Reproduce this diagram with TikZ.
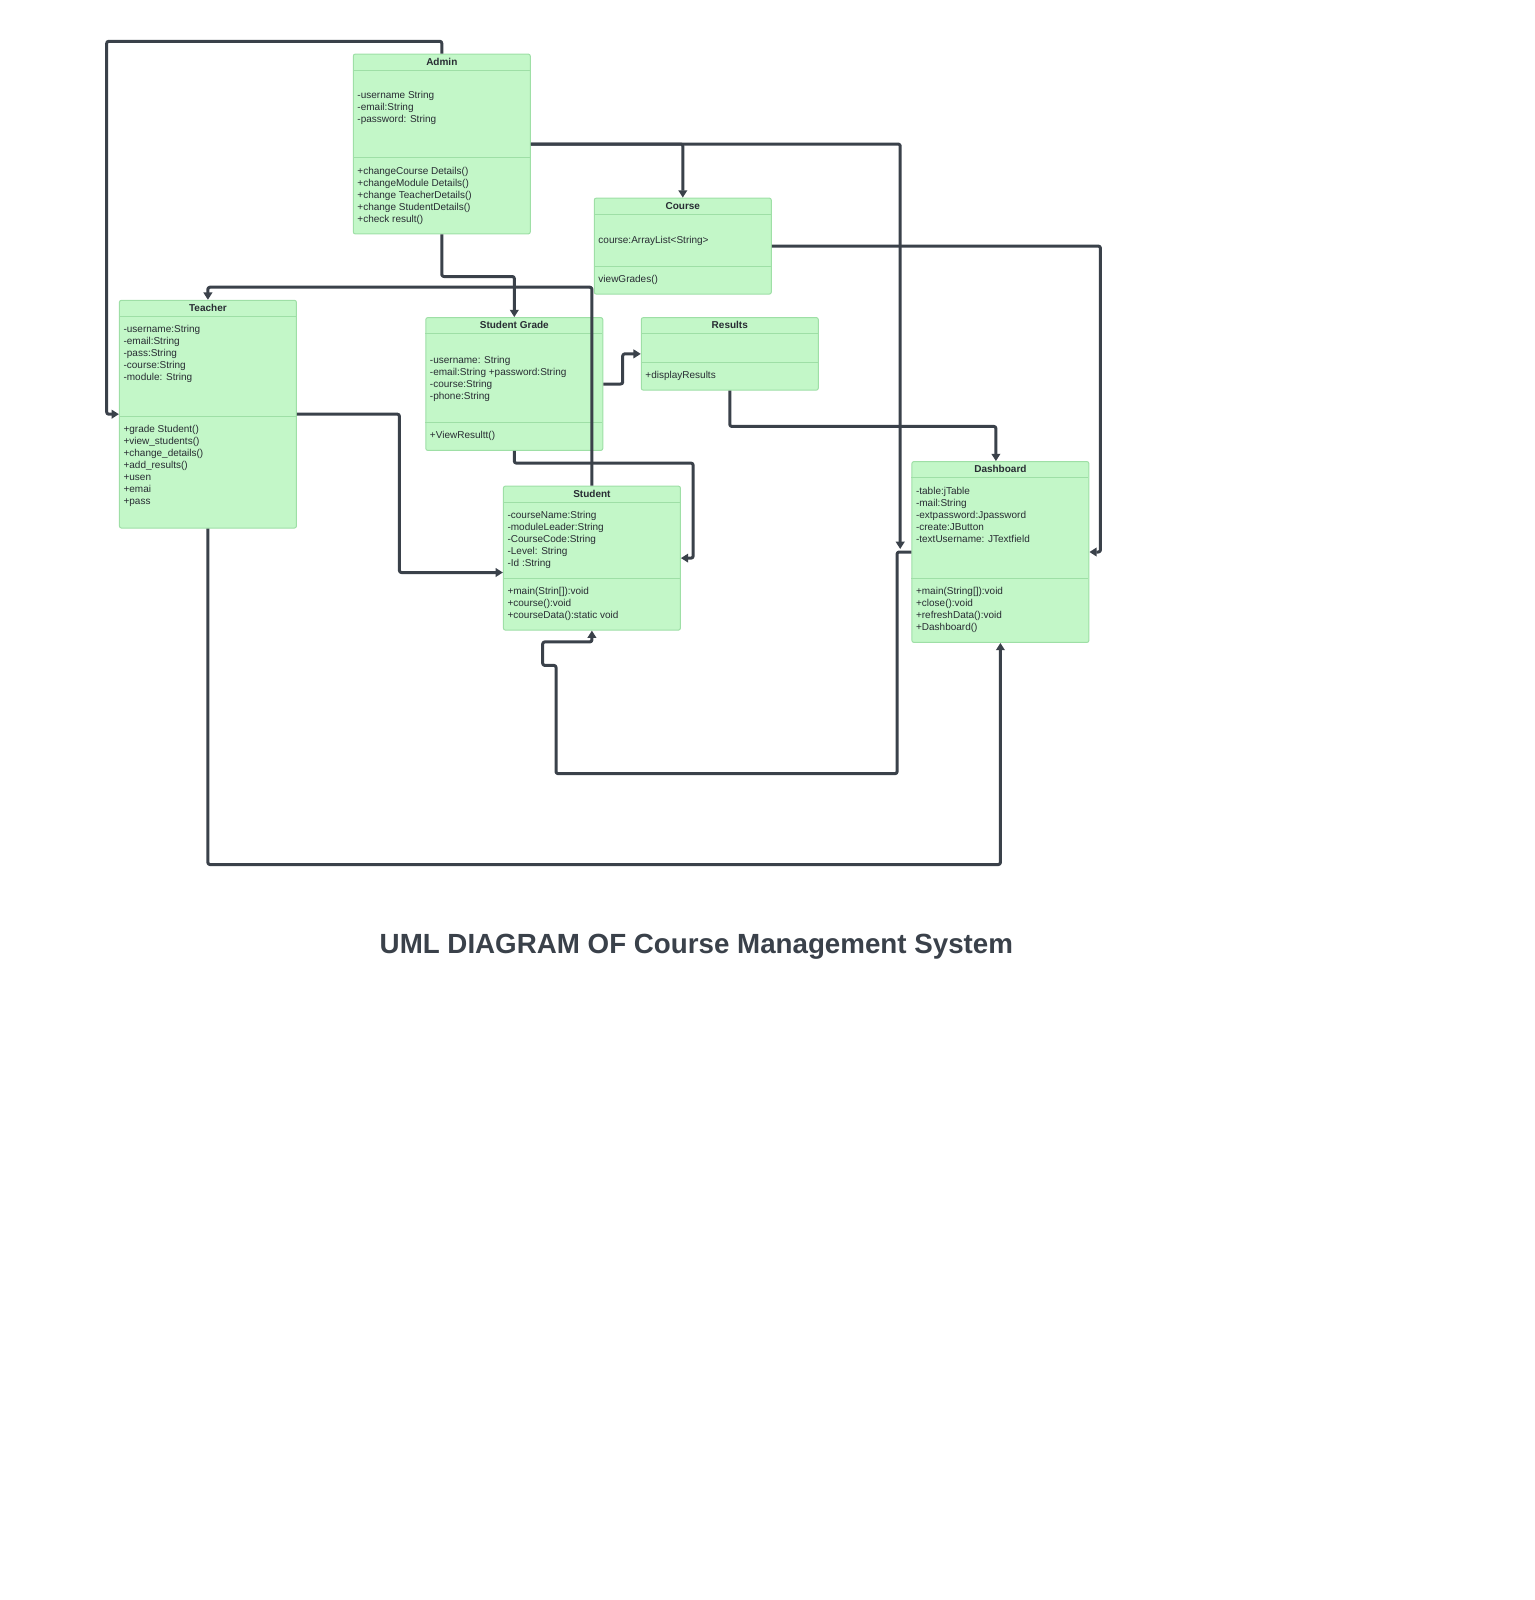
\documentclass[tikz,border=0pt]{standalone}
\usepackage{fontspec}
\setmainfont{Liberation Sans}
\usetikzlibrary{arrows.meta,calc}
\definecolor{boxfill}{HTML}{C3F7C8}
\definecolor{boxborder}{HTML}{9EDFA6}
\definecolor{linec}{HTML}{3A414A}
\definecolor{txt}{HTML}{282C33}
\definecolor{titlec}{HTML}{3A414A}
\tikzset{
  umlbox/.style={draw=boxborder, fill=boxfill, rounded corners=1.5pt, line width=0.75pt,
    minimum width=132.75pt, inner sep=0pt, anchor=north west},
  sepline/.style={draw=boxborder, line width=0.75pt},
  ttl/.style={font=\fontsize{7.5}{9}\selectfont\bfseries, text=txt, inner sep=0pt},
  body/.style={font=\fontsize{7.5}{9}\selectfont, text=txt, align=left, anchor=north west, inner sep=0pt},
  conn/.style={draw=linec, line width=2.25pt, line join=round, rounded corners=1.5pt,
    -{Triangle[length=5.5pt,width=6.5pt]}},
}
\begin{document}
\begin{tikzpicture}[x=0.75pt,y=-0.75pt]
\useasboundingbox (0,0) rectangle (1535,1600);
\begin{scope}[shift={(-0.6,-0.5)}]
% ---------- boxes ----------
% Admin
\node[umlbox, minimum height=134.85pt] (admin) at (353.4,54.1) {};
\draw[sepline] ($(admin.north west)+(0,16.4)$) -- ++(177,0);
\draw[sepline] ($(admin.north west)+(0,104.2)$) -- ++(177,0);
\node[ttl] (adminT) at ($(admin.north)+(0,8.2)$) {Admin};
\node[body] (adminA) at ($(admin.north west)+(4.4,36.6)$) {\strut-username String\\-email:String\\-password: String};
\node[body] (adminM) at ($(admin.north west)+(4.4,112.3)$) {\strut+changeCourse Details()\\+changeModule Details()\\+change TeacherDetails()\\+change StudentDetails()\\+check result()};

% Course
\node[umlbox, minimum height=72pt] (course) at (594.4,198.1) {};
\draw[sepline] ($(course.north west)+(0,16.4)$) -- ++(177,0);
\draw[sepline] ($(course.north west)+(0,68.5)$) -- ++(177,0);
\node[ttl] (courseT) at ($(course.north)+(0,8.2)$) {Course};
\node[body] (courseA) at ($(course.north west)+(4.4,36.9)$) {\strut course:ArrayList<String>};
\node[body] (courseM) at ($(course.north west)+(4.4,76.1)$) {\strut viewGrades()};

% Teacher
\node[umlbox, minimum height=170.8pt] (teacher) at (119.5,300.3) {};
\draw[sepline] ($(teacher.north west)+(0,16.3)$) -- ++(177,0);
\draw[sepline] ($(teacher.north west)+(0,116.4)$) -- ++(177,0);
\node[ttl] (teacherT) at ($(teacher.north)+(0,8.2)$) {Teacher};
\node[body] (teacherA) at ($(teacher.north west)+(4.4,24.5)$) {\strut-username:String\\-email:String\\-pass:String\\-course:String\\-module: String};
\node[body] (teacherM) at ($(teacher.north west)+(4.4,123.7)$) {\strut+grade Student()\\+view\_students()\\+change\_details()\\+add\_results()\\+usen\\+emai\\+pass};

% Student Grade
\node[umlbox, minimum height=99.6pt] (sg) at (425.9,317.6) {};
\draw[sepline] ($(sg.north west)+(0,16.4)$) -- ++(177,0);
\draw[sepline] ($(sg.north west)+(0,105.2)$) -- ++(177,0);
\node[ttl] (sgT) at ($(sg.north)+(0,8.2)$) {Student Grade};
\node[body] (sgA) at ($(sg.north west)+(4.4,37.4)$) {\strut-username: String\\-email:String +password:String\\-course:String\\-phone:String};
\node[body] (sgM) at ($(sg.north west)+(4.4,112.8)$) {\strut+ViewResultt()};

% Results
\node[umlbox, minimum height=54.4pt] (results) at (641.4,317.6) {};
\draw[sepline] ($(results.north west)+(0,16.4)$) -- ++(177,0);
\draw[sepline] ($(results.north west)+(0,45)$) -- ++(177,0);
\node[ttl] (resultsT) at ($(results.north)+(0,8.2)$) {Results};
\node[body] (resultsM) at ($(results.north west)+(4.4,53.1)$) {\strut+displayResults};

% Student
\node[umlbox, minimum height=108pt] (student) at (503.5,486.1) {};
\draw[sepline] ($(student.north west)+(0,16.4)$) -- ++(177,0);
\draw[sepline] ($(student.north west)+(0,93)$) -- ++(177,0);
\node[ttl] (studentT) at ($(student.north)+(0,8.2)$) {Student};
\node[body] (studentA) at ($(student.north west)+(4.4,24.6)$) {\strut-courseName:String\\-moduleLeader:String\\-CourseCode:String\\-Level: String\\-Id :String};
\node[body] (studentM) at ($(student.north west)+(4.4,100.3)$) {\strut+main(Strin[]):void\\+course():void\\+courseData():static void};

% Dashboard
\node[umlbox, minimum height=135.6pt] (dash) at (912,461.6) {};
\draw[sepline] ($(dash.north west)+(0,16.4)$) -- ++(177,0);
\draw[sepline] ($(dash.north west)+(0,117.5)$) -- ++(177,0);
\node[ttl] (dashT) at ($(dash.north)+(0,8.2)$) {Dashboard};
\node[body] (dashA) at ($(dash.north west)+(4.4,25.1)$) {\strut-table:jTable\\-mail:String\\-extpassword:Jpassword\\-create:JButton\\-textUsername: JTextfield};
\node[body] (dashM) at ($(dash.north west)+(4.4,124.8)$) {\strut+main(String[]):void\\+close():void\\+refreshData():void\\+Dashboard()};

% ---------- connectors ----------
\coordinate (p1) at (107.3,41.8);
\draw[conn] (admin.north) |- (p1) |- (teacher.west);

\draw[conn] (admin.east) -| (course.north);

\coordinate (dA) at (900.8,549.5);
\draw[conn] (admin.east) -| (dA);

\coordinate (p4) at (1101,0);
\draw[conn] (course.east) -- (course.east -| p4) |- (dash.east);

\draw[conn] (admin.south) -- ++(0,42.1) -| (sg.north);

\draw[conn] (student.north) -- ++(0,-198.4) -| (teacher.north);

\coordinate (p7) at (400,573);
\draw[conn] (teacher.east) -| (p7) -- (p7 -| student.west);

\draw[conn] (sg.east) -- ++(19.4,0) |- (results.west);

\draw[conn] (sg.south) -- ++(0,12.2) -| ($(student.east)+(12.2,0)$) -- (student.east);

\draw[conn] (results.south) -- ++(0,35.8) -| ($(dash.north)+(-4.5,0)$);

\draw[conn] (teacher.south) -- ++(0,336) -| (dash.south);

\coordinate (q1) at (556.6,774.1);
\coordinate (q2) at (556.6,665.9);
\coordinate (q3) at (543.3,642.4);
\draw[conn] (dash.west) -- ++(-14.3,0) |- (q1) -- (q2) -| (q3) -| (student.south);

% ---------- title ----------
\node[font=\fontsize{20.8}{25}\selectfont\bfseries, text=titlec, anchor=base, inner sep=0pt] (title) at (697,953.5) {UML DIAGRAM OF Course Management System};
\end{scope}
\end{tikzpicture}
\end{document}
